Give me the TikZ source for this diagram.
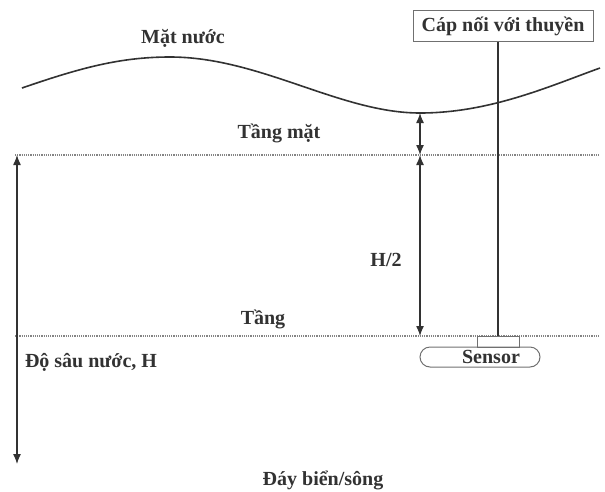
\documentclass[tikz,border=0pt]{standalone}
\usepackage{fontspec}
\setmainfont{Liberation Serif}
\usetikzlibrary{arrows.meta,shapes.misc}
\definecolor{ink}{RGB}{50,50,50}
\tikzset{
  lbl/.style={font=\bfseries\fontsize{20}{22}\selectfont, text=ink, inner sep=1pt},
  level/.style={ink!60, densely dotted, line width=1.2pt},
  dim/.style={ink, line width=1.3pt, {Latex[length=10pt,width=8pt]}-{Latex[length=10pt,width=8pt]}}
}
\begin{document}
\begin{tikzpicture}[x=1pt,y=-1pt]
  \useasboundingbox (0,0) rectangle (605,491);
  % water surface
  \draw[ink, line width=1.6pt]
    (22,88) .. controls (80,68) and (120,57) .. (170,57)
    .. controls (260,57) and (340,113) .. (420,113)
    .. controls (490,113) and (550,86) .. (600,68);
  \coordinate (trough) at (420,113);
  % levels
  \coordinate (surfL) at (15,155);
  \coordinate (surfR) at (600,155);
  \coordinate (midL) at (15,336);
  \coordinate (midR) at (600,336);
  \draw[level] (surfL) -- (surfR);
  \draw[level] (midL) -- (midR);
  \coordinate (surfA) at (420,155);
  \coordinate (midA) at (420,336);
  \coordinate (depthT) at (17,155);
  \coordinate (depthB) at (17,464);
  % labels
  \node[lbl] (mat) at (183,38) {Mặt nước};
  \node[lbl] (tangmat) at (279,133) {Tầng mặt};
  \node[lbl] (half) at (386,260) {H/2};
  \node[lbl] (tang) at (263,319) {Tầng};
  \node[lbl] (depth) at (91,362) {Độ sâu nước, H};
  \node[lbl] (bottom) at (323,480) {Đáy biển/sông};
  % cable and sensor
  \node[lbl, draw=ink!70, line width=1pt, minimum width=180, minimum height=31, inner sep=2pt] (cap) at (503,26) {Cáp nối với thuyền};
  \node[draw=ink!70, line width=1pt, minimum width=42, minimum height=11, inner sep=0pt] (mount) at (498,341.5) {};
  \node[rounded rectangle, draw=ink!70, line width=1pt, minimum width=120, minimum height=20, inner sep=0pt, font=\bfseries\fontsize{20}{22}\selectfont, text=ink] (sensor) at (480,357) {\hspace*{22pt}Sensor};
  \begin{scope}[ink]
    \draw[line width=2pt] (cap.south -| mount.north) -- (mount.north);
    \draw[dim] (trough) -- (surfA);
    \draw[dim] (surfA) -- (midA);
    \draw[dim] (depthT) -- (depthB);
  \end{scope}
\end{tikzpicture}
\end{document}
